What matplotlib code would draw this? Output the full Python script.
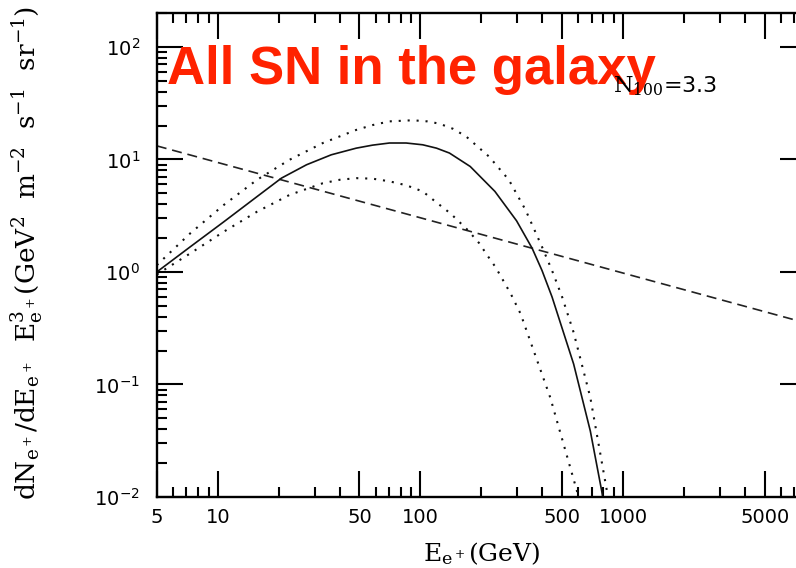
import matplotlib
matplotlib.use("Agg")
import matplotlib.pyplot as plt
from matplotlib.ticker import FixedLocator, FixedFormatter, NullFormatter

plt.rcParams["mathtext.fontset"] = "dejavuserif"

# total positron flux from galactic SNe (solid)
E_total = [5, 7.3, 10.7, 15.6, 20.6, 27.4, 36.3, 48.2, 58, 70.3, 85, 102.6, 120, 139, 176, 233, 298, 356,
           398, 446, 570, 689, 785, 800]
F_total = [1.0, 1.67, 2.79, 4.67, 6.82, 8.97, 11.0, 12.6, 13.4, 14.0, 14.0, 13.5, 12.6, 11.4, 8.66, 5.2, 2.85,
           1.62, 1.03, 0.6, 0.152, 0.0386, 0.0112, 0.009]

# upper / lower bands (dotted)
E_hi = [5, 7.3, 10.7, 15.6, 22.6, 33, 48.2, 58, 70.3, 91.6, 108, 124, 145, 168, 218, 273, 330, 398, 446,
        500, 570, 689, 832, 850]
F_hi = [1.15, 2.2, 3.94, 6.59, 9.94, 14.0, 18.3, 20.2, 21.8, 22.3, 21.8, 20.8, 18.7, 16.0, 10.6, 6.59, 3.56,
        1.67, 1.03, 0.6, 0.29, 0.0766, 0.0113, 0.009]
E_lo = [5, 7.3, 10.7, 15.6, 22.6, 33, 40, 48.2, 58, 70, 85, 102.6, 117, 141, 171, 195, 214, 235, 279, 312,
        437, 592, 610]
F_lo = [0.95, 1.46, 2.28, 3.43, 4.84, 6.15, 6.6, 6.82, 6.75, 6.4, 5.9, 5.2, 4.3, 3.3, 2.36, 1.8, 1.4, 1.1,
        0.64, 0.425, 0.0766, 0.0113, 0.009]

# background (dashed)
E_bg = [5, 8000]
F_bg = [13.2, 0.352]

x_major = [5, 10, 50, 100, 500, 1000, 5000]
x_labels = ["5", "10", "50", "100", "500", "1000", "5000"]
x_minor = [6, 7, 8, 9, 20, 30, 40, 60, 70, 80, 90, 200, 300, 400, 600, 700, 800, 900,
           2000, 3000, 4000, 6000, 7000, 8000]
y_major = [0.01, 0.1, 1, 10, 100]
y_labels = [r"$\mathsf{10^{-2}}$", r"$\mathsf{10^{-1}}$", r"$\mathsf{10^{0}}$",
            r"$\mathsf{10^{1}}$", r"$\mathsf{10^{2}}$"]
y_minor = [m * d for d in [0.01, 0.1, 1, 10, 100] for m in range(2, 10)]

fig = plt.figure(figsize=(7.96, 5.68), dpi=100)
ax = fig.add_axes([0.197, 0.125, 0.8157, 0.852])

ax.plot(E_bg, F_bg, color="#222222", lw=1.2, ls=(0, (6, 3.5)))
ax.plot(E_total, F_total, color="#111111", lw=1.2)
ax.plot(E_hi, F_hi, color="#111111", lw=1.5, ls=(0, (1, 3.3)))
ax.plot(E_lo, F_lo, color="#111111", lw=1.5, ls=(0, (1, 3.3)))

ax.set_xscale("log")
ax.set_yscale("log")
ax.set_xlim(5, 8000)
ax.set_ylim(0.01, 200)

ax.xaxis.set_major_locator(FixedLocator(x_major))
ax.xaxis.set_major_formatter(FixedFormatter(x_labels))
ax.xaxis.set_minor_locator(FixedLocator(x_minor))
ax.xaxis.set_minor_formatter(NullFormatter())
ax.yaxis.set_major_locator(FixedLocator(y_major))
ax.yaxis.set_major_formatter(FixedFormatter(y_labels))
ax.yaxis.set_minor_locator(FixedLocator(y_minor))
ax.yaxis.set_minor_formatter(NullFormatter())

ax.tick_params(which="both", direction="in", top=True, right=True, width=1.5)
ax.tick_params(which="major", length=19)
ax.tick_params(which="minor", length=7)
ax.tick_params(axis="x", which="major", labelsize=14, pad=8)
ax.tick_params(axis="y", which="major", labelsize=14, pad=12)
for t in ax.get_xticklabels():
    t.set_family("DejaVu Sans")
for s in ax.spines.values():
    s.set_linewidth(1.7)

ax.set_xlabel(r"E$_{\mathrm{e^+}}$(GeV)", family="DejaVu Serif", fontsize=18)
ax.xaxis.set_label_coords(0.5, -0.09)
ax.set_ylabel(r"dN$_{\mathrm{e^+}}$/dE$_{\mathrm{e^+}}$  E$^3_{\mathrm{e^+}}$(GeV$^2$  m$^{-2}$  s$^{-1}$  sr$^{-1}$)",
              family="DejaVu Serif", fontsize=19)
ax.yaxis.set_label_coords(-0.17, 0.505)

ax.text(0.016, 0.935, "All SN in the galaxy", transform=ax.transAxes, color="#ff2200",
        fontsize=38, fontweight="bold", family="Liberation Sans", va="top")
ax.text(0.702, 0.837, r"$\mathrm{N_{100}}$=3.3", transform=ax.transAxes,
        fontsize=16, family="DejaVu Sans", va="baseline")

fig.savefig("out.png", dpi=100)
